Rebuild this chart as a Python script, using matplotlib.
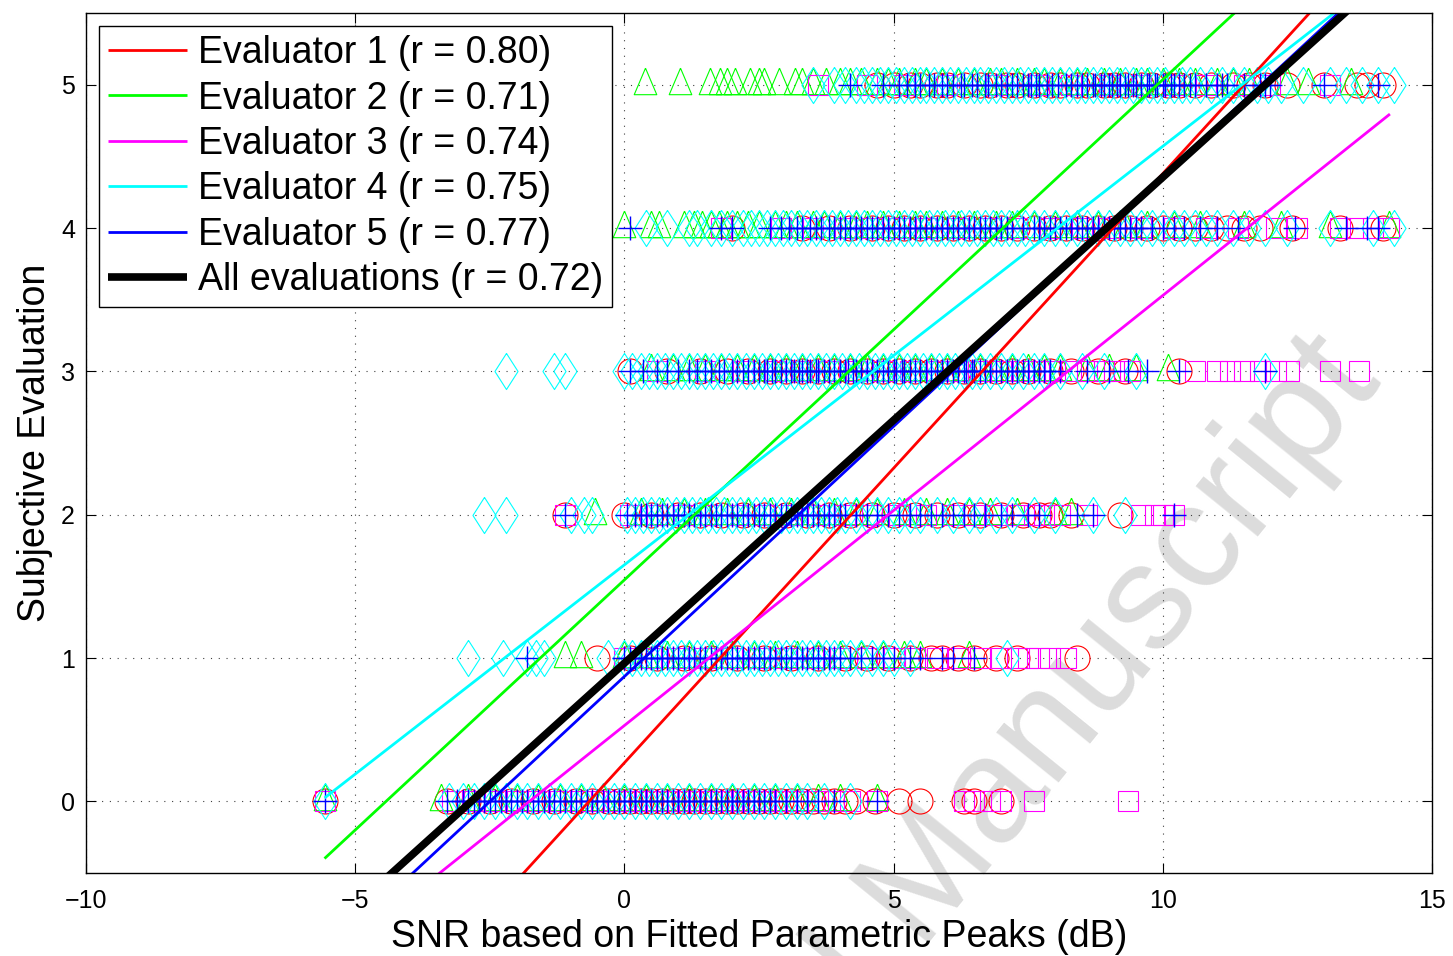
import matplotlib
matplotlib.use("Agg")
import matplotlib.pyplot as plt
import numpy as np

plt.rcParams['font.family'] = ['Liberation Sans', 'DejaVu Sans']

# SNR values (dB) of the rated recordings, per evaluator and per score level 0..5
e1_snr = [
    [-5.57, -3.3, -2.9, -2.5, -2.1, -1.7, -1.3, -0.9, -0.6, -0.3, -0.1, 0.1, 0.3, 0.5, 0.7, 0.9, 1.1, 1.3, 1.5, 1.7, 1.9, 2.1, 2.3, 2.5, 2.7, 2.9, 3.1, 3.3, 3.5, 3.7, 3.9, 4.1, 4.3, 4.65, 5.1, 5.5, 6.3, 6.5, 7.0],
    [-0.5, 0.1, 0.6, 1.1, 1.6, 2.1, 2.6, 3.1, 3.6, 4.1, 4.5, 4.9, 5.3, 5.7, 5.9, 6.2, 6.5, 6.9, 7.3, 8.4],
    [-1.1, 0.0, 0.5, 1.0, 1.4, 1.8, 2.2, 2.6, 3.0, 3.4, 3.8, 4.2, 4.6, 5.0, 5.4, 5.8, 6.2, 6.6, 7.0, 7.4, 7.7, 7.9, 8.3, 9.2],
    [0.1, 0.8, 1.4, 1.9, 2.3, 2.7, 3.0, 3.3, 3.6, 3.9, 4.2, 4.5, 4.8, 5.1, 5.4, 5.7, 6.0, 6.3, 6.6, 6.9, 7.2, 7.5, 7.9, 8.3, 8.8, 9.3, 10.3],
    [2.0, 3.3, 3.8, 4.2, 4.6, 4.9, 5.2, 5.5, 5.8, 6.1, 6.4, 6.7, 7.0, 7.3, 7.6, 7.9, 8.2, 8.5, 8.8, 9.1, 9.4, 9.7, 10.0, 10.3, 10.6, 10.9, 11.2, 11.5, 11.8, 12.4, 13.3, 14.1],
    [4.7, 5.0, 5.3, 5.5, 5.8, 6.0, 6.3, 6.6, 6.8, 7.1, 7.3, 7.6, 7.9, 8.1, 8.4, 8.6, 8.9, 9.1, 9.3, 9.6, 9.8, 10.1, 10.3, 10.6, 10.9, 11.3, 11.6, 11.9, 12.3, 13.0, 13.6, 13.8, 14.1],
]
e2_snr = [
    [-5.57, -3.4, -2.9, -2.4, -2.0, -1.6, -1.2, -0.8, -0.4, 0.0, 0.4, 0.8, 1.2, 1.6, 2.0, 2.4, 2.8, 3.2, 3.6, 4.0, 4.7],
    [-1.1, -0.8, 0.0, 0.4, 0.8, 1.2, 1.6, 2.0, 2.4, 2.8, 3.2, 3.6, 4.0, 4.4, 4.8, 5.2, 5.5, 6.4],
    [-0.55, 0.3, 0.7, 1.1, 1.5, 1.9, 2.3, 2.7, 3.1, 3.5, 3.9, 4.3, 4.7, 5.2, 5.6, 6.0, 6.4, 6.8, 7.3, 8.0, 8.3],
    [0.5, 0.9, 1.2, 1.5, 1.8, 2.1, 2.4, 2.7, 3.0, 3.3, 3.6, 3.9, 4.2, 4.5, 4.8, 5.1, 5.4, 5.7, 6.0, 6.3, 6.6, 6.9, 7.2, 7.5, 7.8, 8.1, 8.6, 9.0, 9.5, 10.1],
    [0.0, 0.5, 0.65, 1.1, 1.3, 1.45, 1.6, 1.75, 1.9, 2.1, 2.3, 2.5, 2.8, 3.0, 3.2, 3.5, 3.7, 4.0, 4.3, 4.5, 4.8, 5.1, 5.4, 5.6, 5.9, 6.2, 6.5, 6.9, 7.2, 7.6, 8.0, 8.4, 8.8, 9.3, 9.7, 10.2, 10.7, 11.5, 12.2, 13.1, 14.2],
    [0.38, 1.03, 1.59, 1.77, 1.9, 2.05, 2.33, 2.5, 2.6, 2.88, 3.16, 3.3, 3.5, 3.75, 4.0, 4.2, 4.4, 4.7, 4.9, 5.1, 5.4, 5.6, 5.9, 6.2, 6.5, 6.8, 7.0, 7.3, 7.6, 7.8, 8.1, 8.4, 8.6, 8.9, 9.2, 9.5, 9.7, 10.0, 10.3, 10.6, 11.0, 11.3, 11.6, 12.3, 12.7, 13.5],
]
e3_snr = [
    [-5.57, -3.2, -2.8, -2.4, -2.0, -1.6, -1.2, -0.8, -0.5, -0.2, 0.0, 0.2, 0.4, 0.6, 0.8, 1.0, 1.2, 1.4, 1.6, 1.8, 2.0, 2.2, 2.4, 2.6, 2.8, 3.0, 3.2, 3.6, 3.9, 4.2, 4.7, 6.3, 6.5, 6.8, 7.0, 7.6, 9.35],
    [0.0, 0.5, 1.0, 1.5, 2.0, 2.5, 3.0, 3.5, 4.0, 4.5, 5.0, 5.4, 5.8, 6.2, 6.6, 7.0, 7.3, 7.5, 7.7, 7.9, 8.2],
    [-1.1, 0.1, 0.6, 1.1, 1.6, 2.1, 2.6, 3.1, 3.6, 4.1, 4.6, 5.1, 5.6, 6.1, 6.5, 6.9, 7.3, 7.6, 7.8, 8.1, 8.6, 9.6, 9.85, 10.0, 10.2],
    [0.6, 1.5, 2.2, 2.8, 3.3, 3.8, 4.3, 4.8, 5.3, 5.8, 6.2, 6.6, 7.0, 7.4, 7.7, 8.0, 8.3, 8.6, 8.9, 9.1, 9.4, 10.6, 11.0, 11.25, 11.5, 11.8, 12.1, 12.35, 13.1, 13.65],
    [1.8, 2.9, 3.5, 4.1, 4.6, 5.1, 5.6, 6.2, 6.8, 7.3, 7.9, 8.5, 9.0, 9.6, 10.2, 10.8, 11.4, 12.1, 12.5, 13.3, 13.6, 13.9, 14.2],
    [3.6, 4.5, 5.2, 6.0, 6.9, 7.7, 8.3, 9.0, 9.6, 10.2, 10.8, 11.5, 12.0, 13.1],
]
e4_snr = [
    [-5.57, -3.25, -3.0, -2.8, -2.6, -2.4, -2.2, -2.0, -1.8, -1.6, -1.4, -1.2, -1.0, -0.8, -0.6, -0.4, -0.2, 0.0, 0.2, 0.4, 0.6, 0.8, 1.0, 1.2, 1.4, 1.6, 1.8, 2.0, 2.2, 2.4, 2.6, 2.8, 3.0, 3.2, 3.4, 3.7, 4.2],
    [-2.9, -2.25, -1.8, -1.65, -1.5, -0.3, 0.0, 0.15, 0.3, 0.45, 0.6, 0.75, 0.9, 1.05, 1.2, 1.35, 1.5, 1.65, 1.8, 1.95, 2.1, 2.25, 2.4, 2.55, 2.7, 2.85, 3.0, 3.15, 3.3, 3.45, 3.6, 3.75, 3.9, 4.05, 4.2, 4.4, 4.6, 4.8, 5.0, 5.3, 7.1],
    [-2.6, -2.2, -1.0, -0.75, -0.6, 0.05, 0.2, 0.35, 0.5, 0.65, 0.8, 0.95, 1.1, 1.25, 1.4, 1.55, 1.7, 1.85, 2.0, 2.15, 2.3, 2.45, 2.6, 2.75, 2.9, 3.05, 3.2, 3.35, 3.5, 3.65, 3.8, 3.95, 4.1, 4.3, 4.5, 4.7, 4.9, 5.1, 5.3, 5.5, 5.8, 6.1, 6.4, 6.6, 6.9, 7.2, 7.6, 8.0, 8.7, 9.3],
    [-2.2, -1.3, -1.1, 0.0, 0.15, 0.3, 0.45, 0.6, 0.75, 0.9, 1.05, 1.2, 1.35, 1.5, 1.65, 1.8, 1.95, 2.1, 2.25, 2.4, 2.55, 2.7, 2.85, 3.0, 3.15, 3.3, 3.45, 3.6, 3.75, 3.9, 4.05, 4.2, 4.35, 4.5, 4.65, 4.8, 4.95, 5.1, 5.25, 5.4, 5.55, 5.7, 5.85, 6.0, 6.15, 6.3, 6.45, 6.6, 6.8, 7.0, 7.2, 7.4, 7.6, 7.8, 8.1, 8.5, 8.9, 9.5, 11.9],
    [0.4, 0.8, 1.2, 1.35, 1.6, 1.8, 2.0, 2.2, 2.35, 2.5, 2.65, 2.8, 2.95, 3.1, 3.25, 3.4, 3.55, 3.7, 3.85, 4.0, 4.15, 4.3, 4.45, 4.6, 4.75, 4.9, 5.05, 5.2, 5.35, 5.5, 5.65, 5.8, 5.95, 6.1, 6.25, 6.4, 6.55, 6.7, 6.85, 7.0, 7.15, 7.3, 7.45, 7.6, 7.8, 8.0, 8.2, 8.4, 8.6, 8.8, 9.0, 9.2, 9.4, 9.6, 9.8, 10.0, 10.2, 10.4, 10.6, 10.8, 11.0, 11.3, 11.6, 11.9, 12.3, 13.1, 13.9, 14.3],
    [3.5, 3.9, 4.1, 4.3, 4.45, 4.6, 4.75, 4.9, 5.05, 5.2, 5.35, 5.5, 5.6, 5.75, 5.9, 6.05, 6.2, 6.35, 6.5, 6.6, 6.75, 6.9, 7.05, 7.2, 7.35, 7.5, 7.65, 7.8, 7.95, 8.1, 8.25, 8.4, 8.55, 8.7, 8.85, 9.0, 9.15, 9.3, 9.45, 9.6, 9.75, 9.9, 10.05, 10.2, 10.35, 10.5, 10.7, 10.9, 11.1, 11.3, 11.5, 11.75, 11.95, 12.2, 12.6, 13.1, 13.4, 13.7, 14.0, 14.3],
]
e5_snr = [
    [-5.57, -3.3, -3.1, -3.0, -2.9, -2.8, -2.7, -2.6, -2.5, -2.4, -2.3, -2.2, -2.1, -2.0, -1.9, -1.8, -1.7, -1.6, -1.5, -1.4, -1.3, -1.2, -1.1, -1.0, -0.9, -0.8, -0.7, -0.6, -0.5, -0.4, -0.3, -0.2, -0.1, 0.0, 0.1, 0.2, 0.3, 0.4, 0.5, 0.6, 0.7, 0.8, 0.9, 1.0, 1.1, 1.2, 1.3, 1.4, 1.5, 1.6, 1.7, 1.8, 1.9, 2.0, 2.1, 2.2, 2.3, 2.4, 2.5, 2.6, 2.7, 2.8, 3.0, 3.2, 3.4, 3.6, 3.9, 4.7],
    [-1.8, 0.0, 0.1, 0.2, 0.3, 0.4, 0.5, 0.6, 0.7, 0.8, 0.9, 1.0, 1.1, 1.2, 1.3, 1.4, 1.5, 1.6, 1.7, 1.8, 1.9, 2.0, 2.1, 2.2, 2.3, 2.4, 2.5, 2.6, 2.7, 2.8, 2.9, 3.0, 3.1, 3.2, 3.3, 3.4, 3.5, 3.6, 3.7, 3.8, 3.9, 4.0, 4.2, 4.4, 4.6, 4.8, 5.0, 5.3, 5.5, 5.9, 6.1, 6.5],
    [-1.1, 0.05, 0.2, 0.3, 0.4, 0.5, 0.6, 0.7, 0.8, 0.9, 1.0, 1.1, 1.2, 1.3, 1.4, 1.5, 1.6, 1.7, 1.8, 1.9, 2.0, 2.1, 2.2, 2.3, 2.4, 2.5, 2.6, 2.7, 2.8, 2.9, 3.0, 3.1, 3.2, 3.3, 3.4, 3.5, 3.6, 3.7, 3.8, 3.9, 4.0, 4.1, 4.3, 4.5, 4.7, 4.9, 5.1, 5.3, 5.5, 5.7, 5.9, 6.1, 6.3, 6.5, 6.7, 7.0, 7.2, 7.5, 7.7, 8.4, 8.7, 10.2],
    [0.1, 0.35, 0.6, 0.8, 1.0, 1.2, 1.35, 1.5, 1.6, 1.75, 1.85, 2.0, 2.1, 2.2, 2.3, 2.4, 2.5, 2.6, 2.65, 2.75, 2.8, 2.9, 3.0, 3.1, 3.15, 3.25, 3.3, 3.4, 3.45, 3.55, 3.6, 3.7, 3.8, 3.9, 4.0, 4.1, 4.15, 4.25, 4.3, 4.4, 4.5, 4.6, 4.7, 4.8, 4.9, 5.0, 5.05, 5.15, 5.2, 5.3, 5.4, 5.5, 5.6, 5.7, 5.8, 5.9, 6.0, 6.1, 6.2, 6.3, 6.35, 6.45, 6.5, 6.6, 6.7, 6.8, 6.9, 7.0, 7.1, 7.2, 7.3, 7.4, 7.5, 7.6, 7.7, 7.8, 7.9, 8.1, 8.6, 9.0, 9.35, 9.7, 10.3, 11.9],
    [0.1, 1.8, 2.0, 2.7, 2.9, 3.05, 3.2, 3.3, 3.45, 3.55, 3.65, 3.8, 3.9, 4.0, 4.1, 4.2, 4.3, 4.4, 4.5, 4.6, 4.7, 4.8, 4.9, 5.0, 5.1, 5.2, 5.3, 5.4, 5.5, 5.6, 5.7, 5.8, 5.9, 6.0, 6.1, 6.2, 6.3, 6.4, 6.5, 6.6, 6.7, 6.8, 6.9, 7.0, 7.1, 7.2, 7.4, 7.6, 7.7, 7.8, 7.9, 8.0, 8.1, 8.2, 8.3, 8.4, 8.5, 8.6, 8.7, 8.8, 8.9, 9.0, 9.1, 9.2, 9.3, 9.4, 9.5, 9.6, 9.8, 10.0, 10.2, 10.4, 10.7, 11.0, 11.4, 12.45, 13.4, 13.8, 14.0],
    [4.2, 4.8, 5.1, 5.25, 5.4, 5.5, 5.65, 5.75, 5.9, 6.0, 6.1, 6.25, 6.3, 6.45, 6.55, 6.7, 6.75, 6.9, 7.0, 7.1, 7.2, 7.3, 7.4, 7.5, 7.55, 7.65, 7.7, 7.85, 7.95, 8.05, 8.2, 8.3, 8.4, 8.5, 8.6, 8.7, 8.75, 8.85, 8.9, 9.0, 9.05, 9.15, 9.2, 9.3, 9.35, 9.45, 9.5, 9.6, 9.7, 9.75, 9.85, 9.9, 10.0, 10.05, 10.15, 10.2, 10.3, 10.4, 10.5, 10.6, 10.8, 11.0, 11.1, 11.2, 11.5, 11.8, 11.9, 12.0, 13.0, 14.0],
]

labels = ['Evaluator 1 (r = 0.80)', 'Evaluator 2 (r = 0.71)', 'Evaluator 3 (r = 0.74)',
          'Evaluator 4 (r = 0.75)', 'Evaluator 5 (r = 0.77)', 'All evaluations (r = 0.72)']
colors = ['#ff0000', '#00ff00', '#ff00ff', '#00ffff', '#0000ff', '#000000']

# least-squares fits: score = slope * snr + intercept, over each data range
fit_slope = [0.411, 0.349, 0.300, 0.292, 0.349, 0.339]
fit_intercept = [0.269, 1.545, 0.529, 1.650, 0.871, 0.964]
fit_xmin = [-5.57, -5.57, -5.57, -5.57, -5.57, -5.57]
fit_xmax = [14.1, 14.2, 14.22, 14.3, 14.0, 14.3]

# thin diamond / triangle shapes
diamond = [(0, 1), (0.64, 0), (0, -1), (-0.64, 0), (0, 1)]
triangle = [(0, 1), (-0.65, -0.53), (0.65, -0.53), (0, 1)]

fig = plt.figure(figsize=(14.53, 9.56), dpi=100)
ax = fig.add_axes([0.0592, 0.0868, 0.9263, 0.8996])
ax.patch.set_alpha(0)

mk = dict(linestyle='none', fillstyle='none', markeredgewidth=0.8)
for lvl in range(6):
    ax.plot(e1_snr[lvl], [lvl] * len(e1_snr[lvl]), marker='o', ms=18, color=colors[0], **mk)
for lvl in range(6):
    ax.plot(e2_snr[lvl], [lvl] * len(e2_snr[lvl]), marker=triangle, ms=25, color=colors[1], **mk)
for lvl in range(6):
    ax.plot(e3_snr[lvl], [lvl] * len(e3_snr[lvl]), marker='s', ms=14, color=colors[2], **mk)
for lvl in range(6):
    ax.plot(e4_snr[lvl], [lvl] * len(e4_snr[lvl]), marker=diamond, ms=26, color=colors[3], **mk)
for lvl in range(6):
    ax.plot(e5_snr[lvl], [lvl] * len(e5_snr[lvl]), marker='+', ms=17, color=colors[4],
            linestyle='none', markeredgewidth=1.0)

# regression lines
handles = []
for i in range(6):
    xs = np.array([fit_xmin[i], fit_xmax[i]])
    ys = fit_slope[i] * xs + fit_intercept[i]
    lw = 5.5 if i == 5 else 2.0
    h, = ax.plot(xs, ys, color=colors[i], linewidth=lw, solid_capstyle='butt')
    handles.append(h)

ax.set_xlim(-10, 15)
ax.set_ylim(-0.5, 5.5)
ax.set_xticks([-10, -5, 0, 5, 10, 15])
ax.set_yticks([0, 1, 2, 3, 4, 5])
ax.set_xticklabels(['\u221210', '\u22125', '0', '5', '10', '15'])
ax.tick_params(direction='in', length=7, width=0.8, top=True, right=True, labelsize=18)
ax.tick_params(axis='x', pad=11.5)
ax.tick_params(axis='y', pad=8)
ax.grid(True, color='0.25', linestyle=(0, (1, 6)), linewidth=0.8)
ax.set_axisbelow(True)
for sp in ax.spines.values():
    sp.set_linewidth(1.0)

ax.set_xlabel('SNR based on Fitted Parametric Peaks (dB)', fontsize=27, labelpad=4)
ax.set_ylabel('Subjective Evaluation', fontsize=27, labelpad=6)

leg = ax.legend(handles, labels, loc='upper left', fontsize=27, frameon=True, fancybox=False,
                edgecolor='black', framealpha=1, handlelength=2.1, handletextpad=0.3,
                labelspacing=0.25, borderpad=0.24, borderaxespad=0.35)
leg.get_frame().set_linewidth(1.0)

# publisher watermark, behind the axes content
fig.text(0.952, 0.60, 'Accepted Manuscript', rotation=51, rotation_mode='anchor',
         ha='right', va='baseline', fontsize=108, color='#dcdcdc', zorder=-1)

fig.savefig('out.png', dpi=100, facecolor='white')
